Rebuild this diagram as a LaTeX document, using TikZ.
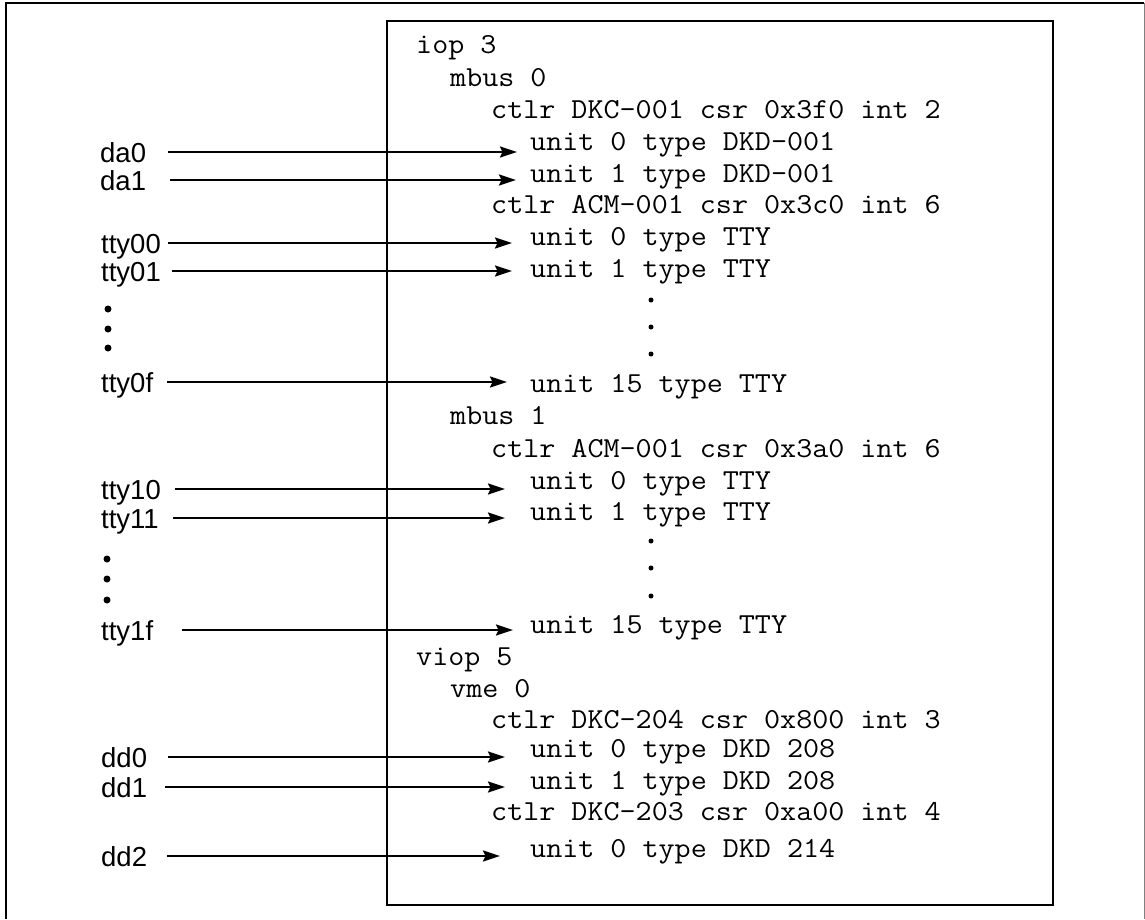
\documentclass[tikz,border=0pt]{standalone}
\usepackage{fontspec}
\setmainfont{Liberation Sans}
\usetikzlibrary{arrows.meta,calc}
\newcommand{\cfgline}[1]{\scalebox{1.075}[1]{#1}}
\begin{document}
\begin{tikzpicture}[x=1pt,y=-1pt,
  code/.style={anchor=base west,inner sep=0pt,font=\ttfamily\fontsize{29}{32}\selectfont},
  lab/.style={anchor=west,inner sep=0pt,text height=20pt,text depth=0pt,font=\fontsize{27.5}{30}\selectfont},
  arr/.style={line width=2.1pt,-{Stealth[length=17pt,width=11pt,inset=2.5pt]}},
  boxline/.style={line width=2pt},
  bigdot/.style={circle,fill,inner sep=0pt,minimum size=7pt},
  smalldot/.style={circle,fill,inner sep=0pt,minimum size=5pt}]
\useasboundingbox (0,0) rectangle (1145,919);
% outer frame
\draw[boxline] (6,919) -- (6,2.5) -- (1144,2.5);
\draw[gray,line width=1pt] (1144,2.5) -- (1144,919);
% inner box
\draw[boxline] (387,21) rectangle (1053,905);
% configuration text
\node[code] (n1)  at (416,53)  {\cfgline{iop 3}};
\node[code] (n2)  at (450,86)  {\cfgline{mbus 0}};
\node[code] (n3)  at (491,118) {\cfgline{ctlr DKC-001 csr 0x3f0 int 2}};
\node[code] (n4)  at (530,150) {\cfgline{unit 0 type DKD-001}};
\node[code] (n5)  at (530,182) {\cfgline{unit 1 type DKD-001}};
\node[code] (n6)  at (491,213) {\cfgline{ctlr ACM-001 csr 0x3c0 int 6}};
\node[code] (n7)  at (530,245) {\cfgline{unit 0 type TTY}};
\node[code] (n8)  at (530,277) {\cfgline{unit 1 type TTY}};
\node[smalldot] (d1) at (651,300) {};
\node[smalldot] (d2) at (651,327) {};
\node[smalldot] (d3) at (651,354) {};
\node[code] (n9)  at (530,392) {\cfgline{unit 15 type TTY}};
\node[code] (n10) at (450,424) {\cfgline{mbus 1}};
\node[code] (n11) at (491,457) {\cfgline{ctlr ACM-001 csr 0x3a0 int 6}};
\node[code] (n12) at (530,489) {\cfgline{unit 0 type TTY}};
\node[code] (n13) at (530,520) {\cfgline{unit 1 type TTY}};
\node[smalldot] (d4) at (651,541) {};
\node[smalldot] (d5) at (651,568) {};
\node[smalldot] (d6) at (651,596) {};
\node[code] (n14) at (530,633) {\cfgline{unit 15 type TTY}};
\node[code] (n15) at (416,665) {\cfgline{viop 5}};
\node[code] (n16) at (450,697) {\cfgline{vme 0}};
\node[code] (n17) at (491,728) {\cfgline{ctlr DKC-204 csr 0x800 int 3}};
\node[code] (n18) at (530,757) {\cfgline{unit 0 type DKD 208}};
\node[code] (n19) at (530,789) {\cfgline{unit 1 type DKD 208}};
\node[code] (n20) at (491,820) {\cfgline{ctlr DKC-203 csr 0xa00 int 4}};
\node[code] (n21) at (530,857) {\cfgline{unit 0 type DKD 214}};
% device labels
\node[lab] (da0)   at (100,152) {da0};
\node[lab] (da1)   at (100,180) {da1};
\node[lab] (tty00) at (101,243) {tty00};
\node[lab] (tty01) at (101,271) {tty01};
\node[bigdot] (b1) at (108,309) {};
\node[bigdot] (b2) at (108,329) {};
\node[bigdot] (b3) at (108,348) {};
\node[lab] (tty0f) at (101,382) {tty0f};
\node[lab] (tty10) at (101,489) {tty10};
\node[lab] (tty11) at (101,518) {tty11};
\node[bigdot] (b4) at (107,559) {};
\node[bigdot] (b5) at (107,579) {};
\node[bigdot] (b6) at (107,600) {};
\node[lab] (tty1f) at (101,630) {tty1f};
\node[lab] (dd0)   at (101,757) {dd0};
\node[lab] (dd1)   at (101,787) {dd1};
\node[lab] (dd2)   at (101,856) {dd2};
% arrows
\draw[arr] ($(da0.west)+(68pt,0)$)   -- ($(da0.west -| n4.west)+(-13pt,0)$);
\draw[arr] ($(da1.west)+(70pt,0)$)   -- ($(da1.west -| n5.west)+(-14pt,0)$);
\draw[arr] ($(tty00.west)+(67pt,0)$) -- ($(tty00.west -| n7.west)+(-18pt,0)$);
\draw[arr] ($(tty01.west)+(71pt,0)$) -- ($(tty01.west -| n8.west)+(-18pt,0)$);
\draw[arr] ($(tty0f.west)+(66pt,0)$) -- ($(tty0f.west -| n9.west)+(-23pt,0)$);
\draw[arr] ($(tty10.west)+(74pt,0)$) -- ($(tty10.west -| n12.west)+(-25pt,0)$);
\draw[arr] ($(tty11.west)+(72pt,0)$) -- ($(tty11.west -| n13.west)+(-25pt,0)$);
\draw[arr] ($(tty1f.west)+(81pt,0)$) -- ($(tty1f.west -| n14.west)+(-17pt,0)$);
\draw[arr] ($(dd0.west)+(67pt,0)$)   -- ($(dd0.west -| n18.west)+(-25pt,0)$);
\draw[arr] ($(dd1.west)+(64pt,0)$)   -- ($(dd1.west -| n19.west)+(-25pt,0)$);
\draw[arr] ($(dd2.west)+(66pt,0)$)   -- ($(dd2.west -| n21.west)+(-30pt,0)$);
\end{tikzpicture}
\end{document}
